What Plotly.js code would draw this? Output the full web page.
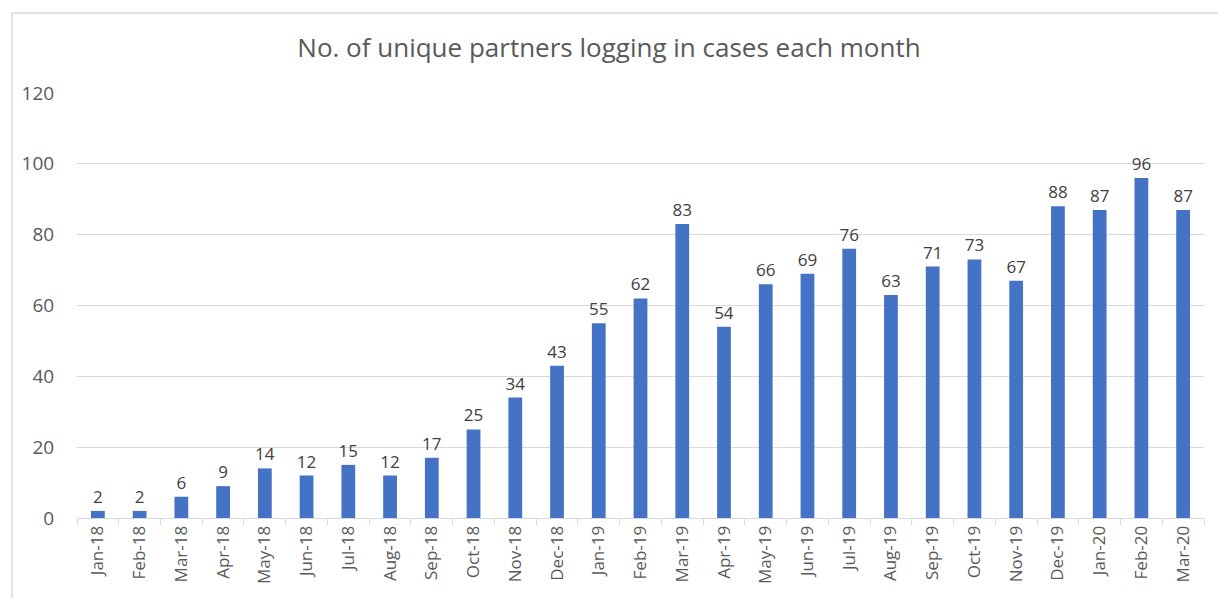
<!DOCTYPE html>
<html>
<head>
<meta charset="utf-8">
<script src="https://cdn.plot.ly/plotly-3.0.1.min.js"></script>
<style>
html,body{margin:0;padding:0;background:#fff;}
#chart{width:1218px;height:598px;}
</style>
</head>
<body>
<div id="chart"></div>
<script>
const months = ["Jan-18","Feb-18","Mar-18","Apr-18","May-18","Jun-18","Jul-18","Aug-18","Sep-18","Oct-18","Nov-18","Dec-18",
  "Jan-19","Feb-19","Mar-19","Apr-19","May-19","Jun-19","Jul-19","Aug-19","Sep-19","Oct-19","Nov-19","Dec-19",
  "Jan-20","Feb-20","Mar-20"];
const partners = [2,2,6,9,14,12,15,12,17,25,34,43,55,62,83,54,66,69,76,63,71,73,67,88,87,96,87];
const yTicks = [0,20,40,60,80,100,120];

const W = 1218, H = 598;
const mL = 77, mR = 14, mT = 93, mB = 80;
const pw = W - mL - mR, ph = H - mT - mB;

const trace = {
  type: 'bar',
  x: months,
  y: partners,
  marker: {color: '#4472C4'},
  text: partners.map(String),
  textposition: 'outside',
  constraintext: 'none',
  textfont: {family: 'Open Sans, Noto Sans, sans-serif', size: 17, color: '#404040'},
  cliponaxis: false,
  hoverinfo: 'x+y'
};

const layout = {
  width: W, height: H,
  margin: {l: mL, r: mR, t: mT, b: mB},
  paper_bgcolor: '#ffffff',
  plot_bgcolor: '#ffffff',
  bargap: 0.67,
  showlegend: false,
  font: {family: 'Open Sans, Noto Sans, sans-serif', color: '#595959', size: 17},
  title: {
    text: 'No. of unique partners logging in cases each month',
    font: {family: 'Open Sans, Noto Sans, sans-serif', size: 26, color: '#595959'},
    x: 0.5, xanchor: 'center', y: 1 - 48 / H, yanchor: 'middle'
  },
  xaxis: {
    type: 'category',
    tickangle: -90,
    tickfont: {family: 'Open Sans, Noto Sans, sans-serif', size: 17, color: '#595959'},
    showgrid: false,
    showline: true,
    linecolor: '#d9d9d9',
    linewidth: 1,
    ticks: 'outside',
    tickson: 'boundaries',
    ticklen: 6,
    tickcolor: '#d9d9d9',
    automargin: false,
    zeroline: false
  },
  yaxis: {
    range: [0, 120],
    tickvals: yTicks,
    ticktext: yTicks.map(String),
    tickfont: {family: 'Open Sans, Noto Sans, sans-serif', size: 19, color: '#595959'},
    showgrid: true,
    gridcolor: '#d9d9d9',
    gridwidth: 1,
    zeroline: false,
    showline: false,
    ticks: 'outside',
    ticklen: 18,
    tickcolor: 'rgba(0,0,0,0)',
    automargin: false
  },
  shapes: [{
    type: 'rect', xref: 'paper', yref: 'paper',
    x0: (12 - mL) / pw, x1: (1240 - mL) / pw,
    y0: (H - mB - 620) / ph, y1: (H - mB - 13) / ph,
    line: {color: '#d9d9d9', width: 1.5},
    fillcolor: 'rgba(0,0,0,0)',
    layer: 'below'
  }]
};

Plotly.newPlot('chart', [trace], layout, {displayModeBar: false, staticPlot: true});
</script>
</body>
</html>
